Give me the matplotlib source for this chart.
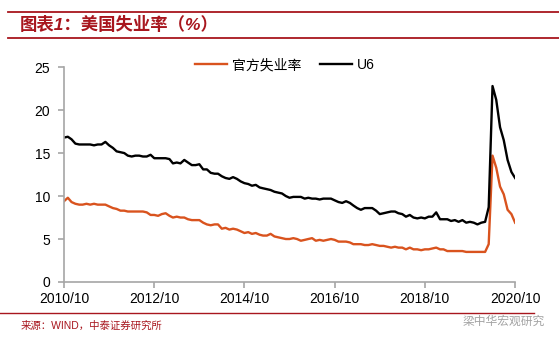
import matplotlib.pyplot as plt
import numpy as np
import pandas as pd

plt.rcParams['font.family'] = ['Liberation Sans', 'Noto Sans CJK SC', 'DejaVu Sans']

# monthly data, 2010/10 - 2020/10
months = pd.date_range('2010-10-01', periods=121, freq='MS')

official = [
    9.4, 9.8, 9.3,
    9.1, 9.0, 9.0, 9.1, 9.0, 9.1, 9.0, 9.0, 9.0, 8.8, 8.6, 8.5,
    8.3, 8.3, 8.2, 8.2, 8.2, 8.2, 8.2, 8.1, 7.8, 7.8, 7.7, 7.9,
    8.0, 7.7, 7.5, 7.6, 7.5, 7.5, 7.3, 7.2, 7.2, 7.2, 6.9, 6.7,
    6.6, 6.7, 6.7, 6.2, 6.3, 6.1, 6.2, 6.1, 5.9, 5.7, 5.8, 5.6,
    5.7, 5.5, 5.4, 5.4, 5.6, 5.3, 5.2, 5.1, 5.0, 5.0, 5.1, 5.0,
    4.8, 4.9, 5.0, 5.1, 4.8, 4.9, 4.8, 4.9, 5.0, 4.9, 4.7, 4.7,
    4.7, 4.6, 4.4, 4.4, 4.4, 4.3, 4.3, 4.4, 4.3, 4.2, 4.2, 4.1,
    4.0, 4.1, 4.0, 4.0, 3.8, 4.0, 3.8, 3.8, 3.7, 3.8, 3.8, 3.9,
    4.0, 3.8, 3.8, 3.6, 3.6, 3.6, 3.6, 3.6, 3.5, 3.5, 3.5, 3.5,
    3.5, 3.5, 4.4, 14.7, 13.3, 11.1, 10.2, 8.4, 7.9, 6.9,
]

u6 = [
    16.8, 16.9, 16.6,
    16.1, 16.0, 16.0, 16.0, 16.0, 15.9, 16.0, 16.0, 16.3, 15.9, 15.6, 15.2,
    15.1, 15.0, 14.7, 14.6, 14.7, 14.7, 14.6, 14.6, 14.8, 14.4, 14.4, 14.4,
    14.4, 14.3, 13.8, 13.9, 13.8, 14.2, 13.9, 13.6, 13.6, 13.7, 13.1, 13.1,
    12.7, 12.6, 12.6, 12.3, 12.1, 12.0, 12.2, 12.0, 11.7, 11.5, 11.4, 11.2,
    11.3, 11.0, 10.9, 10.8, 10.7, 10.5, 10.4, 10.3, 10.0, 9.8, 9.9, 9.9,
    9.9, 9.7, 9.8, 9.7, 9.7, 9.6, 9.7, 9.7, 9.7, 9.5, 9.3, 9.2,
    9.4, 9.2, 8.9, 8.6, 8.4, 8.6, 8.6, 8.6, 8.3, 7.9, 8.0, 8.1,
    8.2, 8.2, 8.0, 7.9, 7.6, 7.8, 7.5, 7.4, 7.5, 7.4, 7.6, 7.6,
    8.1, 7.3, 7.3, 7.3, 7.1, 7.2, 7.0, 7.2, 6.9, 7.0, 6.9, 6.7,
    6.9, 7.0, 8.7, 22.8, 21.2, 18.0, 16.5, 14.2, 12.8, 12.1,
]

tick_dates = months[::24]
tick_labels = [d.strftime('%Y/%m') for d in tick_dates]

red = '#A8161E'
grey = '#A6A6A6'

fig = plt.figure(figsize=(5.59, 3.40), dpi=100)
ax = fig.add_axes([0.1145, 0.1706, 0.807, 0.632])

ax.plot(months, official, color='#D9531E', lw=1.7, label='官方失业率')
ax.plot(months, u6, color='black', lw=1.7, label='U6')

ax.set_xlim(months[0], months[-1])
ax.set_ylim(0, 25)
ax.set_yticks(np.arange(0, 26, 5))
ax.set_xticks(tick_dates)
ax.set_xticklabels(tick_labels)
ax.tick_params(axis='both', colors=grey, length=4, width=1.2, labelcolor='black', labelsize=10)
ax.tick_params(axis='y', pad=6)
for s in ['top', 'right']:
    ax.spines[s].set_visible(False)
for s in ['left', 'bottom']:
    ax.spines[s].set_color(grey)
    ax.spines[s].set_linewidth(1.2)

ax.legend(loc='upper center', bbox_to_anchor=(0.49, 1.1), ncol=2, frameon=False,
          fontsize=10, handlelength=2.3, columnspacing=1.3, handletextpad=0.4)

# header / footer rules and captions
fig.add_artist(plt.Line2D([0.014, 1.0], [1 - 12 / 340, 1 - 12 / 340], color=red, lw=1.3))
fig.add_artist(plt.Line2D([0.014, 1.0], [1 - 38 / 340, 1 - 38 / 340], color=red, lw=1.3))
fig.text(0.036, 1 - 25 / 340, '图表1：美国失业率（%）', color=red, fontsize=12.5,
         fontweight='bold', style='italic', va='center')
fig.add_artist(plt.Line2D([0.0, 0.955], [1 - 313 / 340, 1 - 313 / 340], color=red, lw=1.0))
fig.text(0.036, 1 - 326 / 340, '来源：WIND，中泰证券研究所', color=red, fontsize=7.5, va='center')
fig.text(0.975, 1 - 322 / 340, '梁中华宏观研究', color='#8C8C8C', fontsize=8.5,
         va='center', ha='right', alpha=0.8)

fig.savefig('out.png', dpi=100)
